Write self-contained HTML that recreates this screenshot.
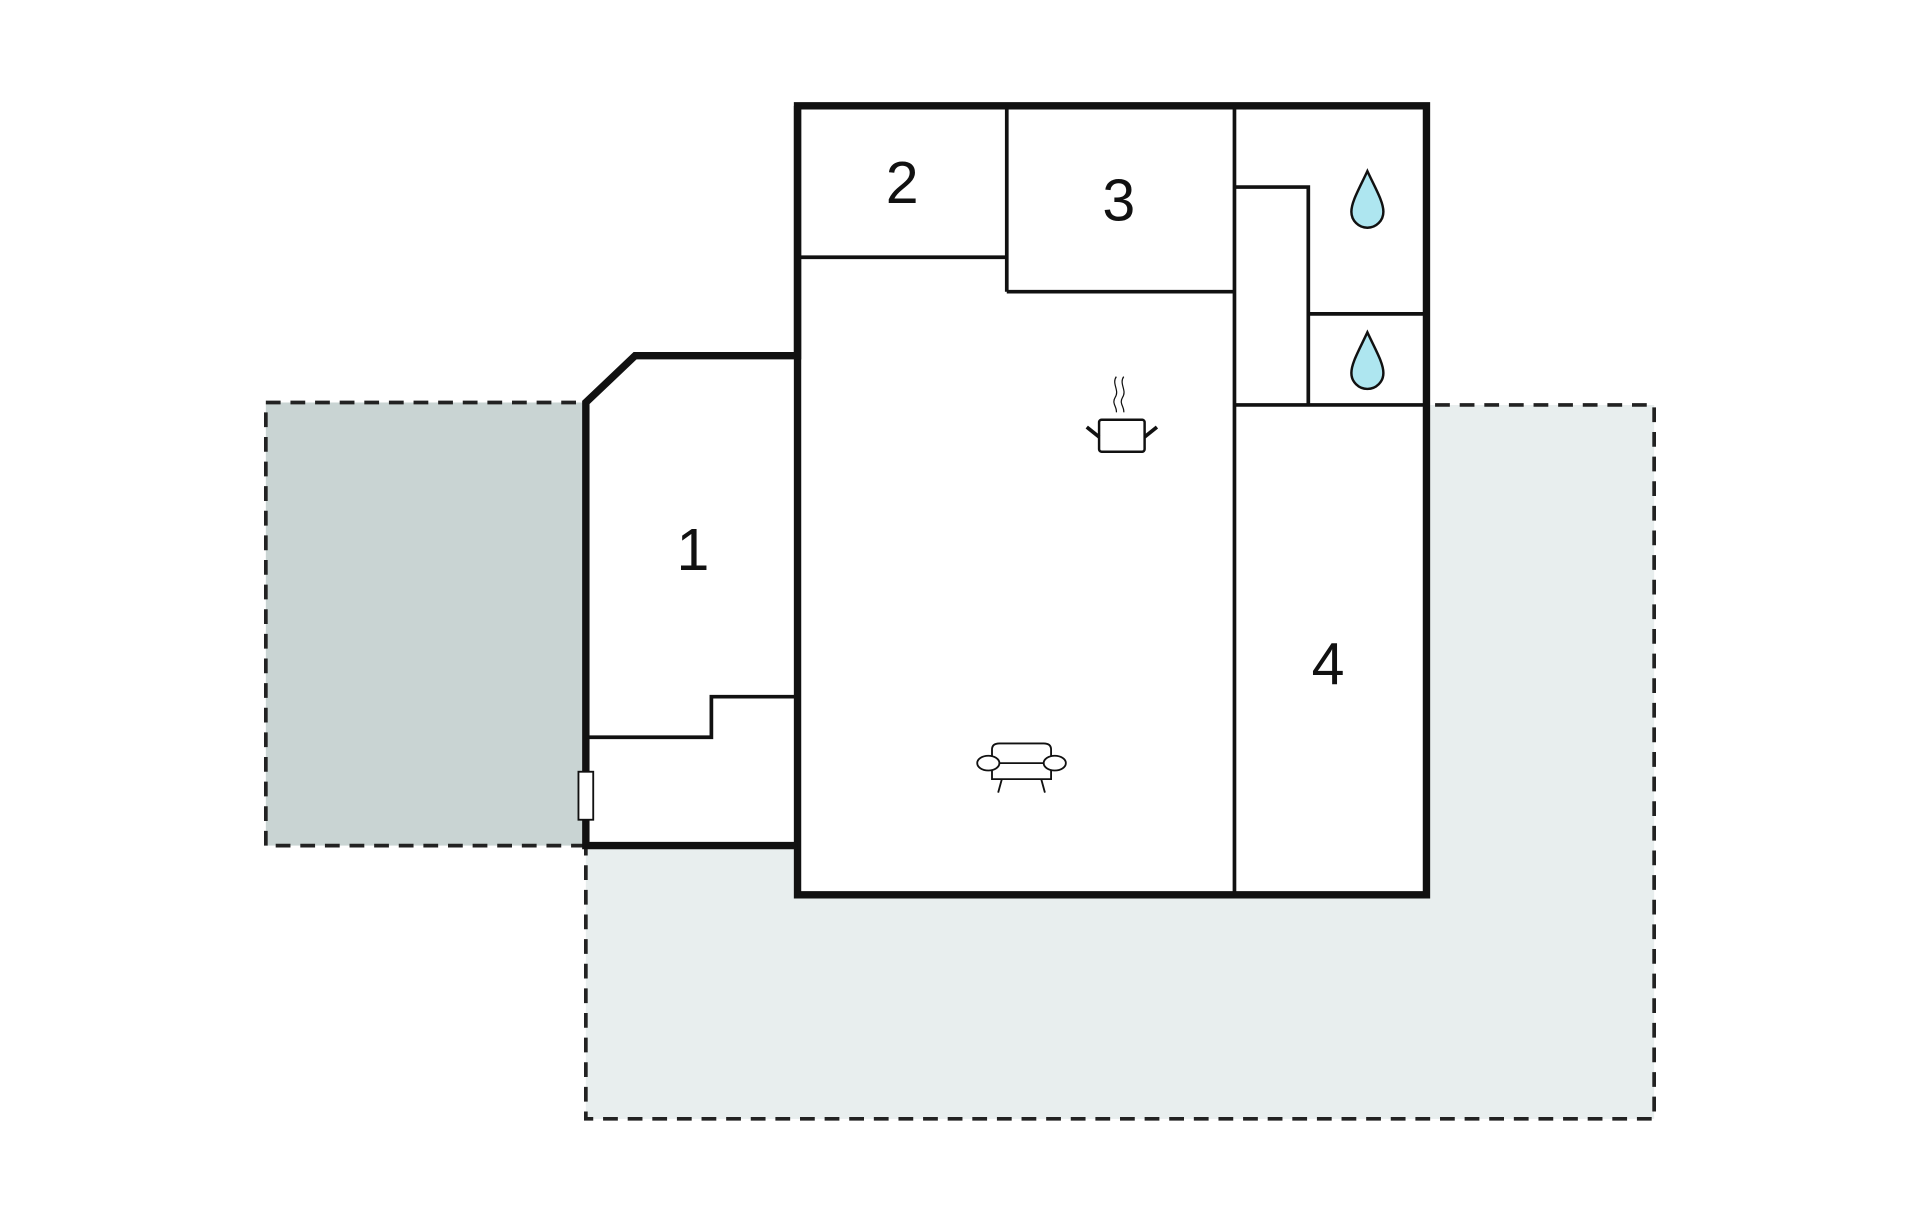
<!DOCTYPE html>
<html><head><meta charset="utf-8"><style>html,body{margin:0;padding:0;background:#fff;}svg{display:block;}</style></head>
<body>
<svg width="1920" height="1221" viewBox="0 0 1560 992" preserveAspectRatio="none" xmlns="http://www.w3.org/2000/svg">
<g transform="translate(-4,-1)">
<rect x="220" y="328" width="260" height="360" fill="#c9d4d3" stroke="#222" stroke-width="3" stroke-dasharray="12,8"/>
<polygon points="1163,330 1348,330 1348,910 480,910 480,688 652,688 652,728 1163,728" fill="#e8eeee"/>
<polyline points="1170,330 1348,330 1348,910 480,910 480,690" fill="none" stroke="#222" stroke-width="3" stroke-dasharray="12,8"/>
<polygon points="652,87 1163,87 1163,728 652,728 652,688 480,688 480,328 520,290 652,290" fill="#fff"/>
<g fill="none" stroke="#111" stroke-width="3">
<line x1="652" y1="290" x2="652" y2="688"/>
<line x1="652" y1="210" x2="822" y2="210"/>
<line x1="822" y1="87" x2="822" y2="238"/>
<line x1="822" y1="238" x2="1007" y2="238"/>
<line x1="1007" y1="87" x2="1007" y2="728"/>
<polyline points="1007,153 1067,153 1067,330"/>
<line x1="1067" y1="256" x2="1163" y2="256"/>
<line x1="1007" y1="330" x2="1163" y2="330"/>
<polyline points="480,600 582,600 582,567 652,567"/>
</g>
<g fill="none" stroke="#111" stroke-width="6" stroke-linejoin="miter">
<polygon points="652,87 1163,87 1163,728 652,728 652,688"/>
<polyline points="652,87 652,290 520,290 480,328 480,688 652,688"/>
</g>
<rect x="474" y="628" width="12" height="39" fill="#fff" stroke="#111" stroke-width="1.5"/>
<g font-family="Liberation Sans Narrow, Liberation Sans, sans-serif" font-size="48" fill="#111" text-anchor="middle">
<text x="737" y="166">2</text>
<text x="913" y="180">3</text>
<text x="567" y="464">1</text>
<text x="1083" y="557">4</text>
</g>
<g fill="#aee6f0" stroke="#111" stroke-width="2">
<path d="M1115,140 C1108,155 1102,165 1102,173 A13,13 0 0 0 1128,173 C1128,165 1122,155 1115,140 Z"/>
<path d="M1115,271 C1108,286 1102,296 1102,304 A13,13 0 0 0 1128,304 C1128,296 1122,286 1115,271 Z"/>
</g>
<g fill="none" stroke="#111">
<rect x="897" y="342" width="37" height="26" rx="2" stroke-width="2"/>
<line x1="887" y1="348" x2="897" y2="356" stroke-width="3"/>
<line x1="944" y1="348" x2="934" y2="356" stroke-width="3"/>
<path d="M911,307 C907,313 914,318 910,324 C907,329 912,332 911,336" stroke-width="1"/>
<path d="M917,307 C913,313 920,318 916,324 C913,329 918,332 917,336" stroke-width="1"/>
<path d="M810,618 L810,610 Q810,605 816,605 L852,605 Q858,605 858,610 L858,618" stroke-width="1.5"/>
<ellipse cx="807" cy="621" rx="9" ry="6" fill="#fff" stroke-width="1.5"/>
<ellipse cx="861" cy="621" rx="9" ry="6" fill="#fff" stroke-width="1.5"/>
<line x1="816" y1="621" x2="852" y2="621" stroke-width="1.5"/>
<path d="M810,627 L810,634 L858,634 L858,627" stroke-width="1.5"/>
<line x1="818" y1="634" x2="815" y2="645" stroke-width="1.5"/>
<line x1="850" y1="634" x2="853" y2="645" stroke-width="1.5"/>
</g>
</g>
</svg>
</body></html>
